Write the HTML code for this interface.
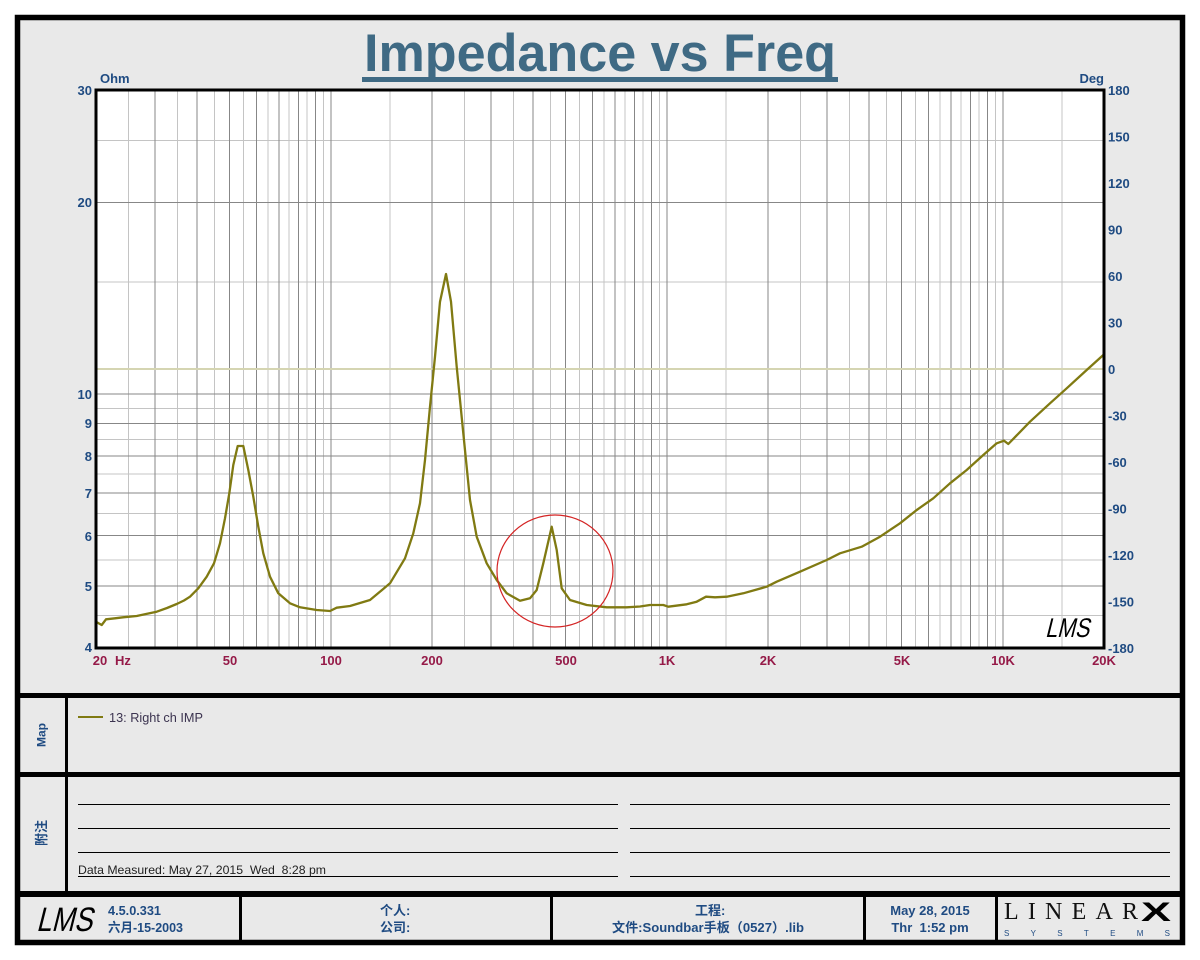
<!DOCTYPE html>
<html><head><meta charset="utf-8"><style>
html,body{margin:0;padding:0;background:#fff;}
svg{display:block;}
text{font-family:"Liberation Sans","Noto Sans CJK SC",sans-serif;}
</style></head><body>
<svg width="1200" height="960" viewBox="0 0 1200 960" xmlns="http://www.w3.org/2000/svg">
<rect x="0" y="0" width="1200" height="960" fill="#fff"/>
<rect x="17.5" y="17.5" width="1165" height="925" fill="#e9e9e9" stroke="#000" stroke-width="5.5"/>
<text x="600" y="71" text-anchor="middle" font-size="53" font-weight="bold" fill="#3f6a84" textLength="472" lengthAdjust="spacingAndGlyphs">Impedance vs Freq</text>
<rect x="362" y="77" width="476" height="5" fill="#3f6a84"/>
<rect x="96" y="90" width="1008" height="558" fill="#fff"/>
<g stroke-width="1" shape-rendering="crispEdges">
<g stroke="#c4c4c4">
<line x1="128.6" y1="90" x2="128.6" y2="648"/><line x1="177.7" y1="90" x2="177.7" y2="648"/><line x1="214.3" y1="90" x2="214.3" y2="648"/><line x1="243.6" y1="90" x2="243.6" y2="648"/><line x1="268" y1="90" x2="268" y2="648"/><line x1="288.9" y1="90" x2="288.9" y2="648"/><line x1="307.1" y1="90" x2="307.1" y2="648"/><line x1="323.4" y1="90" x2="323.4" y2="648"/>
<line x1="390" y1="90" x2="390" y2="648"/><line x1="464.6" y1="90" x2="464.6" y2="648"/><line x1="513.7" y1="90" x2="513.7" y2="648"/><line x1="550.3" y1="90" x2="550.3" y2="648"/><line x1="579.6" y1="90" x2="579.6" y2="648"/><line x1="604" y1="90" x2="604" y2="648"/><line x1="624.9" y1="90" x2="624.9" y2="648"/><line x1="643.1" y1="90" x2="643.1" y2="648"/><line x1="659.4" y1="90" x2="659.4" y2="648"/>
<line x1="726" y1="90" x2="726" y2="648"/><line x1="800.6" y1="90" x2="800.6" y2="648"/><line x1="849.7" y1="90" x2="849.7" y2="648"/><line x1="886.3" y1="90" x2="886.3" y2="648"/><line x1="915.6" y1="90" x2="915.6" y2="648"/><line x1="940" y1="90" x2="940" y2="648"/><line x1="960.9" y1="90" x2="960.9" y2="648"/><line x1="979.1" y1="90" x2="979.1" y2="648"/><line x1="995.4" y1="90" x2="995.4" y2="648"/>
<line x1="1062" y1="90" x2="1062" y2="648"/>
<line x1="96" y1="615.4" x2="1104" y2="615.4"/><line x1="96" y1="559.8" x2="1104" y2="559.8"/><line x1="96" y1="513.5" x2="1104" y2="513.5"/><line x1="96" y1="473.9" x2="1104" y2="473.9"/><line x1="96" y1="439.3" x2="1104" y2="439.3"/><line x1="96" y1="408.4" x2="1104" y2="408.4"/><line x1="96" y1="282" x2="1104" y2="282"/><line x1="96" y1="140.5" x2="1104" y2="140.5"/>
</g>
<g stroke="#878787">
<line x1="155.2" y1="90" x2="155.2" y2="648"/><line x1="197.1" y1="90" x2="197.1" y2="648"/><line x1="229.7" y1="90" x2="229.7" y2="648"/><line x1="256.3" y1="90" x2="256.3" y2="648"/><line x1="278.8" y1="90" x2="278.8" y2="648"/><line x1="298.3" y1="90" x2="298.3" y2="648"/><line x1="315.5" y1="90" x2="315.5" y2="648"/><line x1="330.9" y1="90" x2="330.9" y2="648"/>
<line x1="432" y1="90" x2="432" y2="648"/><line x1="491.2" y1="90" x2="491.2" y2="648"/><line x1="533.1" y1="90" x2="533.1" y2="648"/><line x1="565.7" y1="90" x2="565.7" y2="648"/><line x1="592.3" y1="90" x2="592.3" y2="648"/><line x1="614.8" y1="90" x2="614.8" y2="648"/><line x1="634.3" y1="90" x2="634.3" y2="648"/><line x1="651.5" y1="90" x2="651.5" y2="648"/><line x1="666.9" y1="90" x2="666.9" y2="648"/>
<line x1="768" y1="90" x2="768" y2="648"/><line x1="827.2" y1="90" x2="827.2" y2="648"/><line x1="869.1" y1="90" x2="869.1" y2="648"/><line x1="901.7" y1="90" x2="901.7" y2="648"/><line x1="928.3" y1="90" x2="928.3" y2="648"/><line x1="950.8" y1="90" x2="950.8" y2="648"/><line x1="970.3" y1="90" x2="970.3" y2="648"/><line x1="987.5" y1="90" x2="987.5" y2="648"/><line x1="1002.9" y1="90" x2="1002.9" y2="648"/>
<line x1="96" y1="586.2" x2="1104" y2="586.2"/><line x1="96" y1="535.7" x2="1104" y2="535.7"/><line x1="96" y1="493" x2="1104" y2="493"/><line x1="96" y1="456" x2="1104" y2="456"/><line x1="96" y1="423.4" x2="1104" y2="423.4"/><line x1="96" y1="394.2" x2="1104" y2="394.2"/><line x1="96" y1="202.3" x2="1104" y2="202.3"/>
</g>
</g>
<line x1="96" y1="369" x2="1104" y2="369" stroke="#d5d5b2" stroke-width="2"/>
<polyline fill="none" stroke="#807a12" stroke-width="2.3" stroke-linejoin="round" stroke-linecap="round" points="96,621.7 99,623.5 101.7,625 104,622 106,619.3 115,618.3 123,617.3 136.7,616 146,614 156.7,611.7 167,608 176.7,604 184,600.5 190,596.7 198.3,588.3 206.7,576.7 214,563.3 220,543.3 225,518.3 229.3,493.3 233.3,465 237.7,446 243.3,446 248.3,470 253.3,496.7 258.3,526.7 263.3,553.3 270,576.7 278.3,593.3 290,603.3 300,607.3 316.7,610 330,611 336.7,607.7 350,606 370,600 390,583.3 405,558.3 413.3,533.3 420,503.3 425,460 430,406.7 435,356.7 440,301.7 446,274 451,301.7 456.7,366.7 463.3,433.3 470,500 476.7,536.7 486.7,563.3 496.7,580 506.7,593.3 520,600.7 530,598.3 536.7,590 543.3,563.3 551.7,526.7 556.7,550 561.7,588.3 570,600 586.7,605 606.7,607.3 626.7,607.3 640,606.5 650,605 663.3,605 668.3,606.7 686.7,604.3 696.7,601.7 706,596.7 715,597.3 726.7,596.7 743.3,593.3 766.7,586.7 776.7,581.7 800,571.7 826.7,560 840,553.3 861.7,546.7 880,536.7 900,523.3 916.7,510 933.3,498.3 950,483.3 966.7,470 983.3,455 996.7,443.3 1004,440.7 1008.3,444 1030,421.7 1050,403.3 1066.7,388.3 1086.7,370 1103.3,355"/>
<ellipse cx="555" cy="571" rx="58" ry="56" fill="none" stroke="#d42424" stroke-width="1.2"/>
<g transform="translate(1045,637) skewX(-14)">
<text x="0" y="0" font-size="27" fill="#000" textLength="44" lengthAdjust="spacingAndGlyphs">LMS</text>
</g>
<rect x="96" y="90" width="1008" height="558" fill="none" stroke="#000" stroke-width="3"/>
<text x="100" y="83" font-size="13" font-weight="bold" fill="#1f4b82">Ohm</text>
<text x="1104" y="83" font-size="13" font-weight="bold" fill="#1f4b82" text-anchor="end">Deg</text>
<g font-size="13" font-weight="bold" fill="#1f4b82" text-anchor="end">
<text x="92" y="95">30</text><text x="92" y="207">20</text><text x="92" y="399">10</text><text x="92" y="428">9</text><text x="92" y="461">8</text><text x="92" y="498">7</text><text x="92" y="541">6</text><text x="92" y="591">5</text><text x="92" y="652">4</text>
</g>
<g font-size="13" font-weight="bold" fill="#1f4b82">
<text x="1108" y="95">180</text><text x="1108" y="141.5">150</text><text x="1108" y="188">120</text><text x="1108" y="234.5">90</text><text x="1108" y="281">60</text><text x="1108" y="327.5">30</text><text x="1108" y="374">0</text><text x="1108" y="420.5">-30</text><text x="1108" y="467">-60</text><text x="1108" y="513.5">-90</text><text x="1108" y="560">-120</text><text x="1108" y="606.5">-150</text><text x="1108" y="653">-180</text>
</g>
<g font-size="13" font-weight="bold" fill="#951a48" text-anchor="middle">
<text x="100" y="665">20</text>
<text x="123" y="665">Hz</text>
<text x="230" y="665">50</text><text x="331" y="665">100</text><text x="432" y="665">200</text><text x="566" y="665">500</text><text x="667" y="665">1K</text><text x="768" y="665">2K</text><text x="902" y="665">5K</text><text x="1003" y="665">10K</text><text x="1104" y="665">20K</text>
</g>
<rect x="17" y="693" width="1166" height="5" fill="#000"/>
<rect x="17" y="772" width="1166" height="5" fill="#000"/>
<rect x="17" y="891" width="1166" height="6" fill="#000"/>
<rect x="65" y="696" width="3" height="197" fill="#000"/>
<rect x="239" y="895" width="3" height="46" fill="#000"/>
<rect x="550" y="895" width="3" height="46" fill="#000"/>
<rect x="863" y="895" width="3" height="46" fill="#000"/>
<rect x="995" y="895" width="3" height="46" fill="#000"/>
<text transform="translate(45.5,735) rotate(-90)" text-anchor="middle" font-size="12" font-weight="bold" fill="#1f4b82">Map</text>
<line x1="78" y1="717" x2="103" y2="717" stroke="#807a12" stroke-width="2"/>
<text x="109" y="722" font-size="12.5" fill="#3c3450" textLength="94" lengthAdjust="spacingAndGlyphs">13: Right ch IMP</text>
<text transform="translate(46,833) rotate(-90)" text-anchor="middle" font-size="13" font-weight="bold" fill="#1f4b82">附注</text>
<g fill="#000">
<rect x="78" y="804" width="540" height="1"/><rect x="78" y="828" width="540" height="1"/><rect x="78" y="852" width="540" height="1"/><rect x="78" y="876" width="540" height="1"/>
<rect x="630" y="804" width="540" height="1"/><rect x="630" y="828" width="540" height="1"/><rect x="630" y="852" width="540" height="1"/><rect x="630" y="876" width="540" height="1"/>
</g>
<text x="78" y="874" font-size="12" fill="#222" xml:space="preserve" textLength="248" lengthAdjust="spacingAndGlyphs">Data Measured: May 27, 2015  Wed  8:28 pm</text>
<g transform="translate(36,931) skewX(-14)">
<text x="0" y="0" font-size="34" fill="#000" textLength="56" lengthAdjust="spacingAndGlyphs">LMS</text>
</g>
<g font-size="13" font-weight="bold" fill="#1f4b82">
<text x="108" y="915" textLength="53" lengthAdjust="spacingAndGlyphs">4.5.0.331</text>
<text x="108" y="932" textLength="75" lengthAdjust="spacingAndGlyphs">六月-15-2003</text>
<text x="380" y="915">个人:</text>
<text x="380" y="932">公司:</text>
<text x="695" y="915">工程:</text>
<text x="612" y="932" textLength="192" lengthAdjust="spacingAndGlyphs">文件:Soundbar手板（0527）.lib</text>
<text x="930" y="915" text-anchor="middle">May 28, 2015</text>
<text x="930" y="932" text-anchor="middle" xml:space="preserve">Thr  1:52 pm</text>
</g>
<text x="1004" y="919" style="font-family:'Liberation Serif',serif" font-size="24" fill="#111" textLength="134" lengthAdjust="spacing">LINEAR</text>
<text x="1141" y="921" font-size="27" font-weight="bold" fill="#000" textLength="30" lengthAdjust="spacingAndGlyphs">X</text>
<text x="1004" y="936" font-size="8" fill="#1f4b82" textLength="166" lengthAdjust="spacing">SYSTEMS</text>
</svg>
</body></html>
